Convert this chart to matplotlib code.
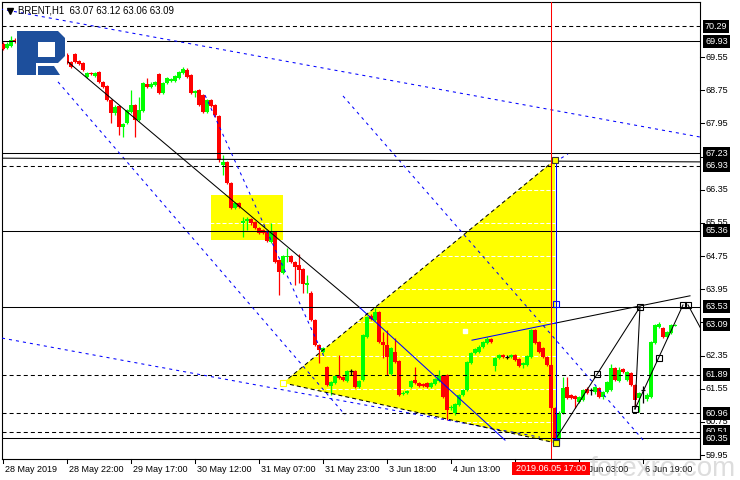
import matplotlib
matplotlib.use("Agg")
import matplotlib.pyplot as plt
import matplotlib.transforms as mtransforms
from matplotlib.patches import Rectangle, Polygon
import numpy as np

plt.rcParams['lines.scale_dashes'] = False
plt.rcParams['font.family'] = ['Liberation Sans', 'DejaVu Sans']

# ---------------- data ----------------
title = "BRENT,H1  63.07 63.12 63.06 63.09"

opens = [69.86, 69.77, 69.82, 69.96, 69.92, 69.95, 69.88, 69.85, 69.90, 69.80,
         69.75, 69.78, 69.70, 69.68, 69.72, 69.65, 69.60, 69.43, 69.62, 69.45,
         69.41, 69.07, 69.16, 69.09, 69.19, 68.95, 68.85, 68.51, 68.20, 68.37,
         67.86, 67.96, 68.22, 68.39, 68.03, 68.25, 68.90, 68.83, 68.87, 69.14,
         68.68, 68.92, 68.97, 68.97, 69.04, 69.16, 69.24, 69.12, 68.68, 68.75,
         68.63, 68.22, 68.51, 68.39, 68.13, 66.95, 67.02, 66.51, 65.91, 66.03,
         65.55, 65.59, 65.64, 65.57, 65.43, 65.38, 65.33, 65.09, 65.33, 64.65,
         64.34, 64.73, 64.75, 64.61, 64.53, 64.43, 64.05, 63.86, 63.21, 62.60,
         62.44, 62.07, 61.62, 61.69, 61.86, 61.83, 61.74, 61.98, 61.98, 61.59,
         61.76, 62.80, 63.30, 63.21, 63.40, 62.68, 62.60, 61.90, 62.44, 62.22,
         61.42, 61.45, 61.59, 61.76, 61.69, 61.66, 61.69, 61.59, 61.66, 61.74,
         61.86, 61.88, 61.08, 60.96, 61.16, 61.40, 61.52, 62.17, 62.41, 62.44,
         62.56, 62.65, 62.75, 62.10, 62.29, 62.36, 62.31, 62.31, 62.36, 62.27,
         62.12, 62.12, 62.31, 62.97, 62.68, 62.53, 62.31, 62.12, 61.08, 60.36,
         60.96, 61.59, 61.40, 61.38, 61.23, 61.28, 61.54, 61.52, 61.47, 61.57,
         61.35, 61.47, 61.52, 62.05, 61.74, 62.03, 61.76, 61.93, 61.64, 61.33,
         61.52, 61.30, 61.35, 62.65, 63.04, 63.02, 62.80, 62.89, 63.07]
highs = [69.90, 69.90, 70.06, 70.00, 69.98, 69.97, 69.90, 69.93, 69.92, 69.82,
         69.80, 69.80, 69.72, 69.74, 69.74, 69.67, 69.65, 69.45, 69.65, 69.48,
         69.43, 69.19, 69.19, 69.19, 69.21, 68.97, 68.87, 68.54, 68.39, 68.39,
         67.96, 68.30, 68.75, 68.42, 68.59, 68.95, 69.04, 68.95, 68.97, 69.16,
         68.95, 69.07, 69.05, 69.12, 69.21, 69.31, 69.28, 69.14, 68.75, 68.78,
         68.66, 68.54, 68.54, 68.42, 68.15, 67.19, 67.05, 66.54, 66.06, 66.06,
         65.69, 65.69, 65.67, 65.60, 65.45, 65.40, 65.36, 65.55, 65.36, 64.68,
         64.78, 64.95, 64.78, 64.63, 64.80, 64.46, 64.30, 63.90, 63.23, 62.63,
         62.56, 62.10, 61.74, 61.88, 62.36, 61.86, 62.00, 62.03, 62.00, 61.76,
         62.87, 63.30, 63.35, 63.50, 63.43, 62.92, 62.97, 62.56, 62.77, 62.24,
         61.49, 61.52, 61.76, 62.07, 61.71, 61.69, 61.71, 61.71, 61.81, 62.00,
         61.88, 61.90, 61.16, 61.21, 61.42, 61.54, 62.22, 62.44, 62.53, 62.60,
         62.70, 62.80, 62.78, 62.31, 62.39, 62.39, 62.36, 62.39, 62.39, 62.29,
         62.19, 62.36, 63.00, 63.00, 62.70, 62.56, 62.34, 62.15, 61.11, 61.00,
         61.83, 61.83, 61.42, 61.40, 61.38, 61.54, 61.59, 61.57, 61.62, 61.59,
         61.49, 61.74, 62.15, 62.07, 62.07, 62.05, 61.98, 61.95, 61.66, 61.47,
         61.62, 61.45, 62.70, 63.12, 63.16, 63.04, 62.95, 63.12, 63.12]
lows = [69.72, 69.74, 69.80, 69.88, 69.88, 69.85, 69.82, 69.83, 69.78, 69.72,
        69.73, 69.68, 69.65, 69.66, 69.63, 69.60, 69.38, 69.28, 69.40, 69.36,
        69.21, 69.04, 69.12, 69.07, 68.92, 68.80, 68.49, 67.96, 68.15, 67.67,
        67.62, 67.93, 68.20, 67.62, 68.00, 68.22, 68.80, 68.80, 68.85, 68.66,
        68.66, 68.90, 68.95, 68.95, 69.02, 69.14, 69.04, 68.66, 68.59, 68.37,
        68.20, 68.20, 68.34, 68.10, 67.02, 66.70, 66.48, 65.88, 65.88, 65.90,
        65.21, 65.38, 65.50, 65.40, 65.28, 65.28, 65.09, 65.06, 64.58, 63.81,
        64.31, 64.60, 64.58, 64.05, 64.10, 63.86, 63.86, 63.18, 62.58, 62.17,
        62.41, 61.62, 61.40, 61.66, 61.78, 61.74, 61.71, 61.88, 61.57, 61.57,
        61.74, 62.78, 63.21, 63.18, 62.65, 62.29, 61.88, 61.88, 62.17, 61.38,
        61.40, 61.42, 61.57, 61.66, 61.59, 61.59, 61.57, 61.57, 61.64, 61.71,
        61.33, 60.79, 61.04, 60.92, 61.13, 61.38, 61.49, 62.15, 62.39, 62.41,
        62.53, 62.63, 62.66, 61.98, 62.27, 62.29, 62.27, 62.29, 62.22, 62.07,
        62.05, 62.10, 62.29, 62.63, 62.41, 62.29, 62.10, 61.06, 60.17, 60.31,
        60.94, 61.30, 61.30, 61.08, 61.20, 61.25, 61.42, 61.40, 61.42, 61.33,
        61.30, 61.45, 61.49, 61.74, 61.71, 61.93, 61.74, 61.62, 61.11, 60.99,
        61.21, 61.25, 61.33, 62.63, 63.02, 62.77, 62.77, 62.87, 63.06]
closes = [69.74, 69.86, 69.96, 69.92, 69.95, 69.88, 69.85, 69.90, 69.80, 69.75,
          69.78, 69.70, 69.68, 69.72, 69.65, 69.62, 69.41, 69.31, 69.43, 69.38,
          69.24, 69.16, 69.14, 69.16, 68.95, 68.83, 68.51, 68.20, 68.34, 67.86,
          67.93, 68.27, 68.39, 68.03, 68.27, 68.92, 68.83, 68.90, 68.95, 68.68,
          68.92, 69.04, 69.02, 69.09, 69.19, 69.26, 69.07, 68.68, 68.73, 68.39,
          68.22, 68.51, 68.37, 68.15, 67.07, 67.02, 66.51, 65.91, 66.03, 65.93,
          65.59, 65.64, 65.55, 65.43, 65.31, 65.31, 65.11, 65.33, 64.61, 64.36,
          64.75, 64.75, 64.61, 64.49, 64.41, 64.07, 64.10, 63.21, 62.60, 62.48,
          62.53, 61.64, 61.71, 61.86, 61.81, 61.76, 61.98, 61.98, 61.59, 61.74,
          62.84, 63.28, 63.23, 63.40, 62.68, 62.60, 62.31, 62.53, 62.19, 61.40,
          61.45, 61.49, 61.74, 61.69, 61.62, 61.62, 61.59, 61.69, 61.78, 61.86,
          61.35, 61.04, 61.11, 61.18, 61.40, 61.52, 62.19, 62.41, 62.51, 62.56,
          62.68, 62.75, 62.68, 62.29, 62.36, 62.31, 62.31, 62.36, 62.24, 62.10,
          62.17, 62.34, 62.97, 62.65, 62.44, 62.31, 62.12, 61.08, 60.36, 60.96,
          61.57, 61.33, 61.33, 61.30, 61.35, 61.52, 61.45, 61.52, 61.59, 61.35,
          61.47, 61.71, 62.05, 61.76, 62.00, 61.95, 61.95, 61.64, 61.28, 61.45,
          61.52, 61.40, 62.68, 63.09, 63.11, 62.80, 62.92, 63.09, 63.09]

time_ticks = [0, 16, 32, 48, 64, 80, 96, 112, 128, 144, 160]
time_labels = ["28 May 2019", "28 May 22:00", "29 May 17:00", "30 May 12:00",
               "31 May 07:00", "31 May 23:00", "3 Jun 18:00", "4 Jun 13:00",
               "", "6 Jun 03:00", "6 Jun 19:00"]
price_ticks = [69.55, 68.75, 67.95, 67.15, 66.35, 65.55, 64.75, 63.95, 63.15,
               62.35, 61.55, 60.75, 59.95]
hidden_tick_labels = [67.15, 63.15]
levels_solid = [69.93, 67.23, 65.36, 63.53, 60.35]
levels_dashed = [70.29, 66.93, 61.89, 60.96, 60.51]
marked_prices = ["70.29", "69.93", "67.23", "66.93", "65.36", "63.53", "63.09",
                 "61.89", "60.96", "60.51", "60.35"]
cursor_bar = 137
cursor_label = "2019.06.05 17:00"

# drawn objects (bar index, price)
blue_dotted = [((-0.75, 70.71), (174.25, 67.62)),
               ((-0.25, 62.77), (134.25, 60.38)),
               ((13.75, 68.95), (85.5, 60.92)),
               ((50.5, 68.63), (80.5, 62.27)),
               ((85.0, 68.61), (160.5, 60.26)),
               ((138.0, 67.02), (141.25, 67.21))]
black_solid = [((16.25, 69.43), (89.25, 63.50)),
               ((-0.25, 67.11), (174.25, 67.02)),
               ((138.0, 63.13), (171.75, 63.79)),
               ((138.0, 60.31), (159.25, 63.52)),
               ((159.25, 63.52), (158.0, 61.06)),
               ((158.0, 61.06), (170.0, 63.57)),
               ((171.25, 63.57), (177.25, 62.50))]
blue_solid = [((89.25, 63.50), (125.5, 60.31)),
              ((117.25, 62.72), (138.0, 63.13)),
              ((138.25, 60.19), (138.25, 67.02))]
handle_squares = [(148.6, 61.90), (159.25, 63.52), (158.0, 61.06),
                  (164.0, 62.30), (170.0, 63.57), (171.25, 63.57)]
blue_squares = [(138.25, 63.60), (138.25, 60.26)]
triangle = [(70.0, 61.69), (138.0, 67.07), (138.25, 60.24)]
rect_bars = (52.0, 70.0)
rect_prices = (65.14, 66.22)

# ---------------- figure ----------------
W, H = 740, 480
fig = plt.figure(figsize=(W / 100, H / 100), dpi=100)
fig.patch.set_facecolor("white")
L, R, T, B = 2, 700, 2, 459
ax = fig.add_axes([L / W, (H - B) / H, (R - L) / W, (B - T) / H])
ax.set_xlim(-0.25, -0.25 + (R - L) / 4.0)
ppd = 41.46
ax.set_ylim(69.55 - (B - 57) / ppd, 69.55 + (57 - T) / ppd)
ax.set_xticks([]); ax.set_yticks([])
for s in ax.spines.values():
    s.set_linewidth(0.8); s.set_color("black")

pix = mtransforms.Affine2D().scale(1 / W, -1 / H).translate(0, 1) + fig.transFigure
pix_y_data = mtransforms.blended_transform_factory(pix, ax.transData)
x_data_pix = mtransforms.blended_transform_factory(ax.transData, pix)

LW = 0.75
DASH_K = (0, (2.9, 2.2))
DASH_B = (0, (2.2, 2.9))

# yellow areas
ax.add_patch(Polygon(triangle, closed=True, fc="#ffff00", ec="none", zorder=1))
ax.add_patch(Rectangle((rect_bars[0], rect_prices[0]), rect_bars[1] - rect_bars[0],
                       rect_prices[1] - rect_prices[0], fc="#ffff00", ec="none", zorder=1))
# white dashed grid (visible only on yellow)
for p in price_ticks:
    ax.axhline(p, color="white", lw=LW, ls=(0, (2.9, 1.5)), zorder=1.5)

# candles
o = np.array(opens); c = np.array(closes); h = np.array(highs); l = np.array(lows)
idx = np.arange(len(c))
up, dn, dj = c > o, c < o, c == o
for m, col in ((up, "#00ff00"), (dn, "#ff0000"), (dj, "#000000")):
    ax.vlines(idx[m], l[m], h[m], color=col, lw=0.9, zorder=3)
ax.bar(idx[up], np.maximum(c[up] - o[up], 0.025), bottom=o[up], width=0.78,
       color="#00ff00", lw=0, zorder=3.1)
ax.bar(idx[dn], np.maximum(o[dn] - c[dn], 0.025), bottom=c[dn], width=0.78,
       color="#ff0000", lw=0, zorder=3.1)
ax.hlines(c[dj], idx[dj] - 0.4, idx[dj] + 0.4, color="black", lw=0.9, zorder=3.1)

# horizontal levels
for p in levels_solid:
    ax.axhline(p, color="black", lw=LW, zorder=4)
for p in levels_dashed:
    ax.axhline(p, color="black", lw=LW, ls=DASH_K, zorder=4)

# trend lines
for (a, b) in blue_dotted:
    ax.plot([a[0], b[0]], [a[1], b[1]], color="#0000ff", lw=LW, ls=DASH_B, zorder=4)
for (a, b) in black_solid:
    ax.plot([a[0], b[0]], [a[1], b[1]], color="black", lw=LW, zorder=4)
for (a, b) in blue_solid:
    ax.plot([a[0], b[0]], [a[1], b[1]], color="#0000ff", lw=LW, zorder=4)
# triangle edges dashed
ax.plot([triangle[0][0], triangle[1][0]], [triangle[0][1], triangle[1][1]],
        color="black", lw=LW, ls=DASH_K, zorder=4)
ax.plot([triangle[0][0], triangle[2][0]], [triangle[0][1], triangle[2][1]],
        color="black", lw=LW, ls=DASH_K, zorder=4)

# cursor line
ax.axvline(cursor_bar, color="#ff0000", lw=LW, zorder=4.5)

# handles
sq = dict(marker="s", ms=4, ls="none", zorder=5, mew=0.8)
ax.plot([p[0] for p in handle_squares], [p[1] for p in handle_squares],
        mfc="none", mec="black", **sq)
ax.plot([p[0] for p in blue_squares], [p[1] for p in blue_squares],
        mfc="none", mec="#0000ff", **sq)
ax.plot([triangle[1][0], triangle[2][0]], [triangle[1][1], triangle[2][1]],
        mfc="#ffff00", mec="#333333", **sq)
ax.plot([triangle[0][0]], [triangle[0][1]], mfc="white", mec="#ffff00", **sq)
ax.plot([115.5], [62.94], marker="s", ms=3, mfc="white", mec="white", ls="none", zorder=5)

# logo (decoration, pixel space)
logo_blue = "#1d4f9c"
fig.patches.append(Rectangle((16, 28), 51, 49, transform=pix, fc="white", ec="none", zorder=10))
fig.patches.append(Rectangle((17, 31), 19, 44, transform=pix, fc=logo_blue, ec="none", zorder=11))
fig.patches.append(Polygon([(35, 31), (58, 31), (65, 38), (65, 56), (58, 63), (35, 63)],
                           closed=True, transform=pix, fc=logo_blue, ec="none", zorder=11))
fig.patches.append(Rectangle((38, 42), 17, 15, transform=pix, fc="white", ec="none", zorder=12))
fig.patches.append(Polygon([(38, 66), (54, 66), (60, 75), (38, 75)], closed=True,
                           transform=pix, fc=logo_blue, ec="none", zorder=11))

# title
fig.text(18, 10.5, title, transform=pix, fontsize=6.9, color="black", va="center", ha="left", zorder=20)
fig.lines.append(plt.Line2D([9.5], [10.5], transform=pix, marker="v", ms=4.2,
                            color="black", ls="none", zorder=20))

# right price scale
FS = 6.5
for p in price_ticks:
    fig.lines.append(plt.Line2D([R, R + 4], [p, p], transform=pix_y_data, color="black", lw=LW))
    if p not in hidden_tick_labels:
        fig.text(706, p, f"{p:.2f}", transform=pix_y_data, fontsize=FS, va="center",
                 ha="left", color="black", zorder=20)
for s in marked_prices:
    p = float(s)
    fig.text(705, p, s, transform=pix_y_data, fontsize=FS, va="center", ha="left",
             color="white", zorder=21,
             bbox=dict(boxstyle="square,pad=0.22", fc="black", ec="none"))

# bottom time scale
for b, lab in zip(time_ticks, time_labels):
    fig.lines.append(plt.Line2D([b, b], [B, B + 4], transform=x_data_pix, color="black", lw=LW))
    if lab:
        fig.text(3 + 4 * b + 2, 469, lab, transform=pix, fontsize=FS, va="center",
                 ha="left", color="black", zorder=20)

# cursor label
fig.patches.append(Rectangle((512, 462), 78, 13, transform=pix, fc="#ff0000", ec="none", zorder=22))
fig.text(551, 468.5, cursor_label, transform=pix, fontsize=FS, va="center", ha="center",
         color="white", zorder=23)

# watermark
fig.text(736, 476, "forexro.com", transform=pix, fontsize=20, color="#b4b4b4",
         alpha=0.45, ha="right", va="baseline", zorder=30)

fig.savefig("out.png", dpi=100)
